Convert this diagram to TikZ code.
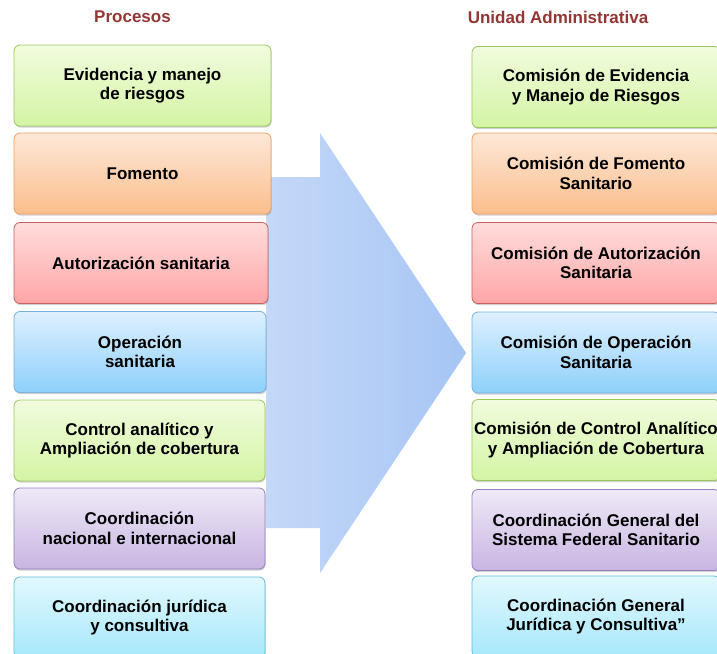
\documentclass[tikz,border=0pt]{standalone}
\usepackage{fontspec}
\setmainfont{Liberation Sans}
\usetikzlibrary{shadows}
\definecolor{ttl}{RGB}{148,54,52}
\definecolor{gT}{RGB}{241,252,222}\definecolor{gB}{RGB}{212,244,164}\definecolor{gD}{RGB}{155,199,96}
\definecolor{oT}{RGB}{253,232,216}\definecolor{oB}{RGB}{251,190,140}\definecolor{oD}{RGB}{240,160,96}
\definecolor{rT}{RGB}{255,220,220}\definecolor{rB}{RGB}{255,166,166}\definecolor{rD}{RGB}{200,96,96}
\definecolor{bT}{RGB}{222,240,255}\definecolor{bB}{RGB}{142,208,250}\definecolor{bD}{RGB}{120,176,222}
\definecolor{pT}{RGB}{239,233,247}\definecolor{pB}{RGB}{200,181,226}\definecolor{pD}{RGB}{150,126,190}
\definecolor{cT}{RGB}{226,248,254}\definecolor{cB}{RGB}{166,232,251}\definecolor{cD}{RGB}{96,190,214}
\definecolor{aL}{RGB}{196,216,248}\definecolor{aR}{RGB}{166,197,244}
\begin{document}
\begin{tikzpicture}[x=1pt,y=-1pt,
  title/.style={font=\bfseries\fontsize{17}{20}\selectfont, text=ttl, inner sep=0pt},
  box/.style={rounded corners=6pt, line width=0.8pt, minimum height=81pt, inner sep=0pt,
    align=center, font=\bfseries\fontsize{17}{19.5}\selectfont,
    drop shadow={shadow xshift=0.6pt, shadow yshift=-1.6pt, opacity=0.3, fill=black!60}},
  green/.style={box, draw=gD, top color=gT, bottom color=gB},
  orange/.style={box, draw=oD, top color=oT, bottom color=oB},
  red/.style={box, draw=rD, top color=rT, bottom color=rB},
  blue/.style={box, draw=bD, top color=bT, bottom color=bB},
  purple/.style={box, draw=pD, top color=pT, bottom color=pB},
  cyan/.style={box, draw=cD, top color=cT, bottom color=cB},
  rbox/.style={minimum width=248pt}]
\useasboundingbox (0,0) rectangle (717,653);
\fill[white] (0,0) rectangle (717,653);
% big arrow
\shade[left color=aL, right color=aR]
  (266,177) -- (320,177) -- (320,133) -- (466,353) -- (320,573) -- (320,528) -- (266,528) -- cycle;
% titles
\node[title] (t1) at (132.5,17) {Procesos};
\node[title] (t2) at (558,17) {Unidad Administrativa};
% left column
\node[green, minimum width=257pt] (l1) at (142.5,85.5) {Evidencia y manejo\\de riesgos};
\node[orange, minimum width=257pt] (l2) at (142.5,173.5) {Fomento};
\node[red, minimum width=254pt] (l3) at (141,263) {Autorización sanitaria};
\node[blue, minimum width=252pt] (l4) at (140,352) {Operación\\sanitaria};
\node[green, minimum width=251pt] (l5) at (139.5,440.5) {Control analítico y\\Ampliación de cobertura};
\node[purple, minimum width=251pt] (l6) at (139.5,528.5) {Coordinación\\nacional e internacional};
\node[cyan, minimum width=251pt] (l7) at (139.5,617.5) {Coordinación jurídica\\y consultiva};
% right column
\node[green, rbox] (r1) at (596,87) {Comisión de Evidencia\\y Manejo de Riesgos};
\node[orange, rbox] (r2) at (596,173.5) {Comisión de Fomento\\Sanitario};
\node[red, rbox] (r3) at (596,263) {Comisión de Autorización\\Sanitaria};
\node[blue, rbox] (r4) at (596,352.5) {Comisión de Operación\\Sanitaria};
\node[green, rbox] (r5) at (596,440) {Comisión de Control Analítico\\y Ampliación de Cobertura};
\node[purple, rbox] (r6) at (596,530) {Coordinación General del\\Sistema Federal Sanitario};
\node[cyan, rbox] (r7) at (596,616.5) {Coordinación General\\Jurídica y Consultiva”};
\end{tikzpicture}
\end{document}
